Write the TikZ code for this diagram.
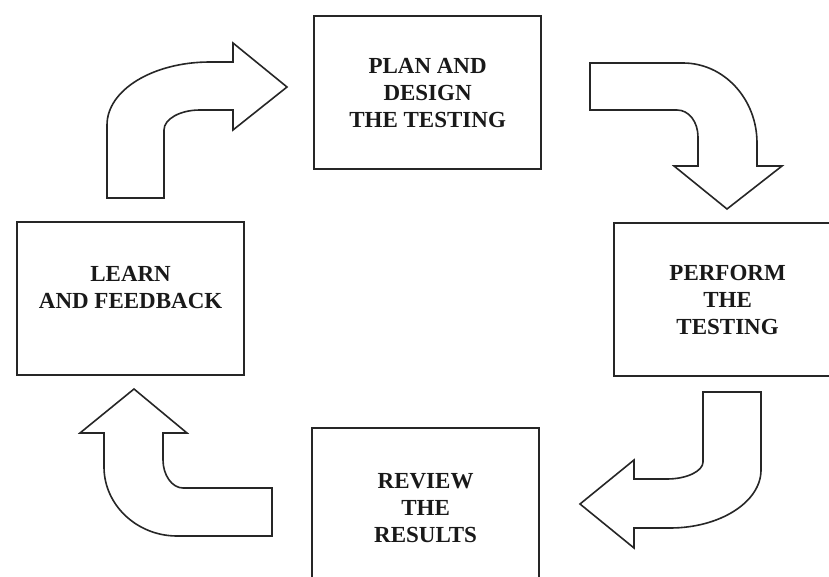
\documentclass[tikz,border=0pt]{standalone}
\usepackage{fontspec}
\setmainfont{Liberation Serif}
\begin{document}
\begin{tikzpicture}[x=1pt,y=-1pt,
  stage/.style={draw=black!85, line width=2.2pt, minimum width=227pt,
    minimum height=153pt, align=center, inner sep=0pt, anchor=north west,
    font=\bfseries\fontsize{23}{27}\selectfont, text=black!90},
  bentarrow/.style={draw=black!85, line width=1.6pt, line join=miter, fill=white}]
\useasboundingbox (0,0) rectangle (829,577);
\clip (0,0) rectangle (829,577);

% the four stages of the test cycle
\node[stage] (plan) at (313,15) {PLAN AND\\DESIGN\\THE TESTING};
\node[stage] (perform) at (613,222) {PERFORM\\THE\\TESTING};
\node[stage, text height=76pt] (review) at (311,427) {REVIEW\\THE\\RESULTS};
\node[stage, text depth=22pt] (learn) at (16,221) {LEARN\\AND FEEDBACK};

% bent block arrows leading from stage to stage
\draw[bentarrow] (107,198) -- (107,125) .. controls (107,90) and (153,62) .. (210,62)
  -- (233,62) -- (233,43) -- (287,87) -- (233,130) -- (233,110) -- (200,110)
  .. controls (180,110) and (164,119) .. (164,130) -- (164,198) -- cycle;

\draw[bentarrow] (590,63) -- (683,63) .. controls (724,63) and (757,99) .. (757,143)
  -- (757,166) -- (782,166) -- (727,209) -- (674,166) -- (698,166) -- (698,137)
  .. controls (698,122) and (689,110) .. (677,110) -- (590,110) -- cycle;

\draw[bentarrow] (703,392) -- (761,392) -- (761,470) .. controls (761,502) and (720,528) .. (670,528)
  -- (634,528) -- (634,548) -- (580,504) -- (634,460) -- (634,479) -- (667,479)
  .. controls (687,479) and (703,471) .. (703,462) -- cycle;

\draw[bentarrow] (272,488) -- (272,536) -- (177,536) .. controls (137,536) and (104,505) .. (104,467)
  -- (104,433) -- (80,433) -- (134,389) -- (187,433) -- (163,433) -- (163,460)
  .. controls (163,475) and (172,488) .. (183,488) -- cycle;
\end{tikzpicture}
\end{document}
